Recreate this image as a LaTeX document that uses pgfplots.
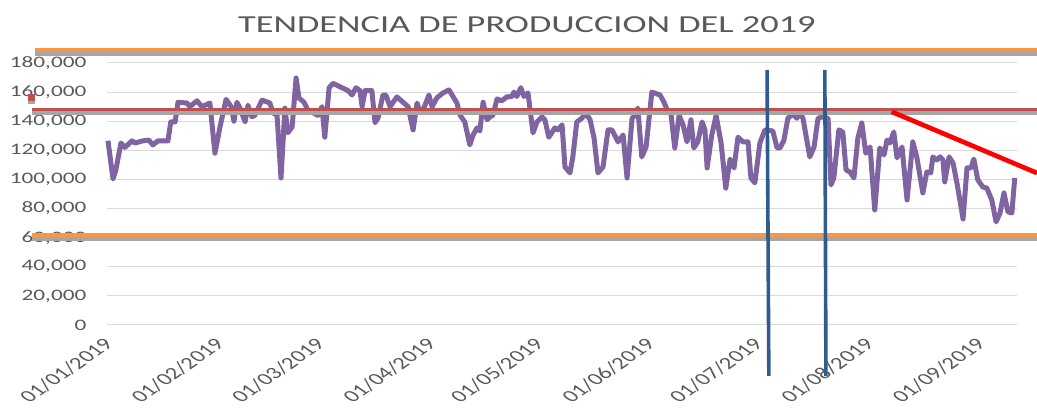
\documentclass[border=0pt]{standalone}
\usepackage{fontspec}
\setmainfont{Carlito}[FakeStretch=1.45]
\newfontfamily\plainfont{Carlito}
\newfontfamily\titlefont{Carlito}[FakeStretch=1.49]
\usepackage{pgfplots}
\pgfplotsset{compat=1.18}
\definecolor{txt}{HTML}{595959}
\definecolor{grd}{HTML}{D9D9D9}
\definecolor{purp}{HTML}{8064A2}
\definecolor{orng}{HTML}{F79646}
\definecolor{redh}{HTML}{C0504D}
\definecolor{blu}{HTML}{2F5C8F}
\definecolor{shd}{HTML}{A6A6A6}
\begin{document}
\begin{tikzpicture}
\begin{axis}[
  scale only axis, width=682.5pt, height=196.5pt,
  xmin=-0.28, xmax=253.2, ymin=0, ymax=180000,
  clip=false,
  axis line style={draw=none},
  major tick length=0pt,
  ymajorgrids, grid style={grd, line width=0.75pt},
  ytick={0,20000,40000,60000,80000,100000,120000,140000,160000,180000},
  scaled y ticks=false,
  yticklabel style={/pgf/number format/fixed, /pgf/number format/1000 sep={,}, /pgf/number format/assume math mode=true,
     font=\fontsize{12}{14}\selectfont, text=txt, anchor=east, xshift=-12pt},
  xtick={0,31,59,90,120,151,181,212,243},
  xticklabels={01/01/2019,01/02/2019,01/03/2019,01/04/2019,01/05/2019,01/06/2019,01/07/2019,01/08/2019,01/09/2019},
  xticklabel style={font=\plainfont\fontsize{12.8}{15}\selectfont, text=txt, anchor=east, xshift=4pt, yshift=-10pt, xscale=1.45, rotate=45},
]
\addplot[purp, line width=3.75pt, line join=round] coordinates {
(0.0,126600) (1.4,100300) (2.2,106500) (3.6,125000) (4.7,122000) (6.7,126500) (7.5,125000) (9.7,126500)
(11.4,127000) (12.5,123700) (13.9,126500) (16.7,126500) (17.5,139500) (18.7,139500) (19.5,153000)
(22.0,152500) (22.8,150000) (24.8,154000) (26.2,150000) (28.4,152500) (29.8,118000) (31.2,136000)
(32.9,155000) (34.3,150000) (35.1,140000) (35.9,153000) (36.8,149000) (38.2,139500) (39.0,151000)
(40.1,143000) (40.9,144000) (42.9,154500) (45.1,152500) (46.0,145700) (47.1,144000) (48.2,101000)
(49.3,149000) (50.1,132000) (51.3,136000) (52.4,169700) (53.2,156000) (54.6,153000) (55.7,147700)
(58.5,144000) (59.6,150000) (60.4,129000) (61.6,163000) (62.7,166000) (65.2,163000) (66.9,161000)
(68.0,158000) (69.1,163000) (70.2,161000) (70.8,150000) (71.6,161000) (73.5,161000) (74.4,139000)
(75.2,142000) (76.6,158000) (77.4,158000) (78.6,150000) (80.5,156700) (82.2,153000) (83.6,150000)
(85.0,134000) (86.1,152500) (86.9,146400) (88.0,149000) (89.4,158000) (90.3,150000) (91.6,156000)
(93.3,159400) (95.0,161500) (96.1,157000) (97.2,152500) (98.1,144000) (99.4,139500) (100.8,123700)
(101.7,130500) (102.8,135400) (103.6,133300) (104.5,153000) (105.6,141000) (106.4,143000) (107.2,144000)
(108.4,155300) (109.7,154000) (111.1,156700) (112.5,157000) (113.1,160000) (113.9,157000) (115.0,163000)
(115.9,157000) (117.0,159400) (118.4,132000) (119.5,139500) (120.9,143000) (121.7,141000) (122.8,129000)
(124.5,135400) (125.3,134000) (126.5,137500) (127.3,108600) (128.7,104500) (129.5,115500) (130.6,139500)
(132.0,142000) (133.1,145700) (134.3,141000) (135.4,128500) (136.5,104500) (137.9,108600) (139.3,134000)
(140.4,134000) (142.1,125800) (143.5,130500) (144.6,101000) (146.0,142000) (146.8,144000) (147.6,149000)
(148.7,115500) (149.9,122300) (151.5,160000) (153.8,158000) (154.9,153000) (156.0,146400) (156.8,145700)
(157.9,121600) (159.1,144000) (160.2,137500) (161.3,125800) (162.4,141000) (163.2,121600) (164.3,125800)
(165.5,139500) (166.3,134000) (166.9,107900) (168.2,130500) (169.4,144000) (170.8,125000) (172.1,94000)
(173.3,114000) (174.4,107900) (175.5,129000) (176.9,125800) (178.3,125800) (179.1,101000) (180.2,97600)
(181.6,125000) (183.0,134000) (185.2,133300) (186.4,121600) (187.2,121600) (188.3,127000) (189.4,142000)
(190.8,145000) (191.9,142000) (192.8,145700) (193.6,142000) (195.5,115500) (196.7,122300) (197.8,142000)
(198.9,143000) (200.6,142000) (201.4,96200) (202.2,101000) (203.6,134000) (204.7,132600) (205.6,106500)
(206.7,105100) (207.8,101000) (208.9,128500) (210.0,138800) (211.1,118000) (212.3,122300) (213.6,79000)
(215.0,121600) (216.2,116800) (217.0,127000) (217.8,125000) (218.9,132600) (219.8,114800) (221.2,122300)
(222.6,85900) (224.2,125800) (225.3,115500) (227.0,90700) (228.1,105100) (229.2,104500) (229.8,115500)
(230.9,113400) (231.8,115500) (232.6,113400) (233.1,98300) (234.3,115500) (235.4,111300) (236.5,97600)
(238.2,72800) (239.3,107900) (240.4,107900) (241.2,114000) (242.3,99700) (243.7,94800) (244.8,94100)
(246.2,85900) (247.4,70800) (248.5,77000) (249.6,90700) (250.7,77700) (251.8,77000) (252.6,101000)
};
% reference lines
\addplot[shd, line width=2.8pt] coordinates {(-20.3,186200) (258.8,186200)};
\addplot[orng, line width=2.8pt] coordinates {(-20.3,188900) (258.8,188900)};
\addplot[shd, line width=2.8pt] coordinates {(-21.2,145600) (258.8,145600)};
\addplot[redh, line width=2.8pt] coordinates {(-21.2,148000) (258.8,148000)};
\addplot[shd, line width=2.8pt] coordinates {(-21.2,59100) (258.8,59100)};
\addplot[orng, line width=2.8pt] coordinates {(-21.2,61800) (258.8,61800)};
\addplot[shd, only marks, mark=square*, mark size=2.2pt] coordinates {(-21.3,154000)};
\addplot[redh, only marks, mark=square*, mark size=2.2pt] coordinates {(-21.3,156500)};
\addplot[blu, line width=2.7pt] coordinates {(183.6,175200) (184.1,-35000)};
\addplot[blu, line width=2.7pt] coordinates {(199.7,175200) (200.0,-35000)};
\addplot[red, line width=3.5pt] coordinates {(218.3,146500) (258.8,104400)};
\node[font=\titlefont\fontsize{18.3}{22}\selectfont, text=txt, anchor=base] at (axis cs:116.7,201100) {TENDENCIA DE PRODUCCION DEL 2019};
\coordinate (bbA) at (axis cs:-30.08,-57020);
\coordinate (bbB) at (axis cs:258.8,223280);
\end{axis}
\pgfresetboundingbox
\path[use as bounding box] (bbA) rectangle (bbB);
\end{tikzpicture}
\end{document}
